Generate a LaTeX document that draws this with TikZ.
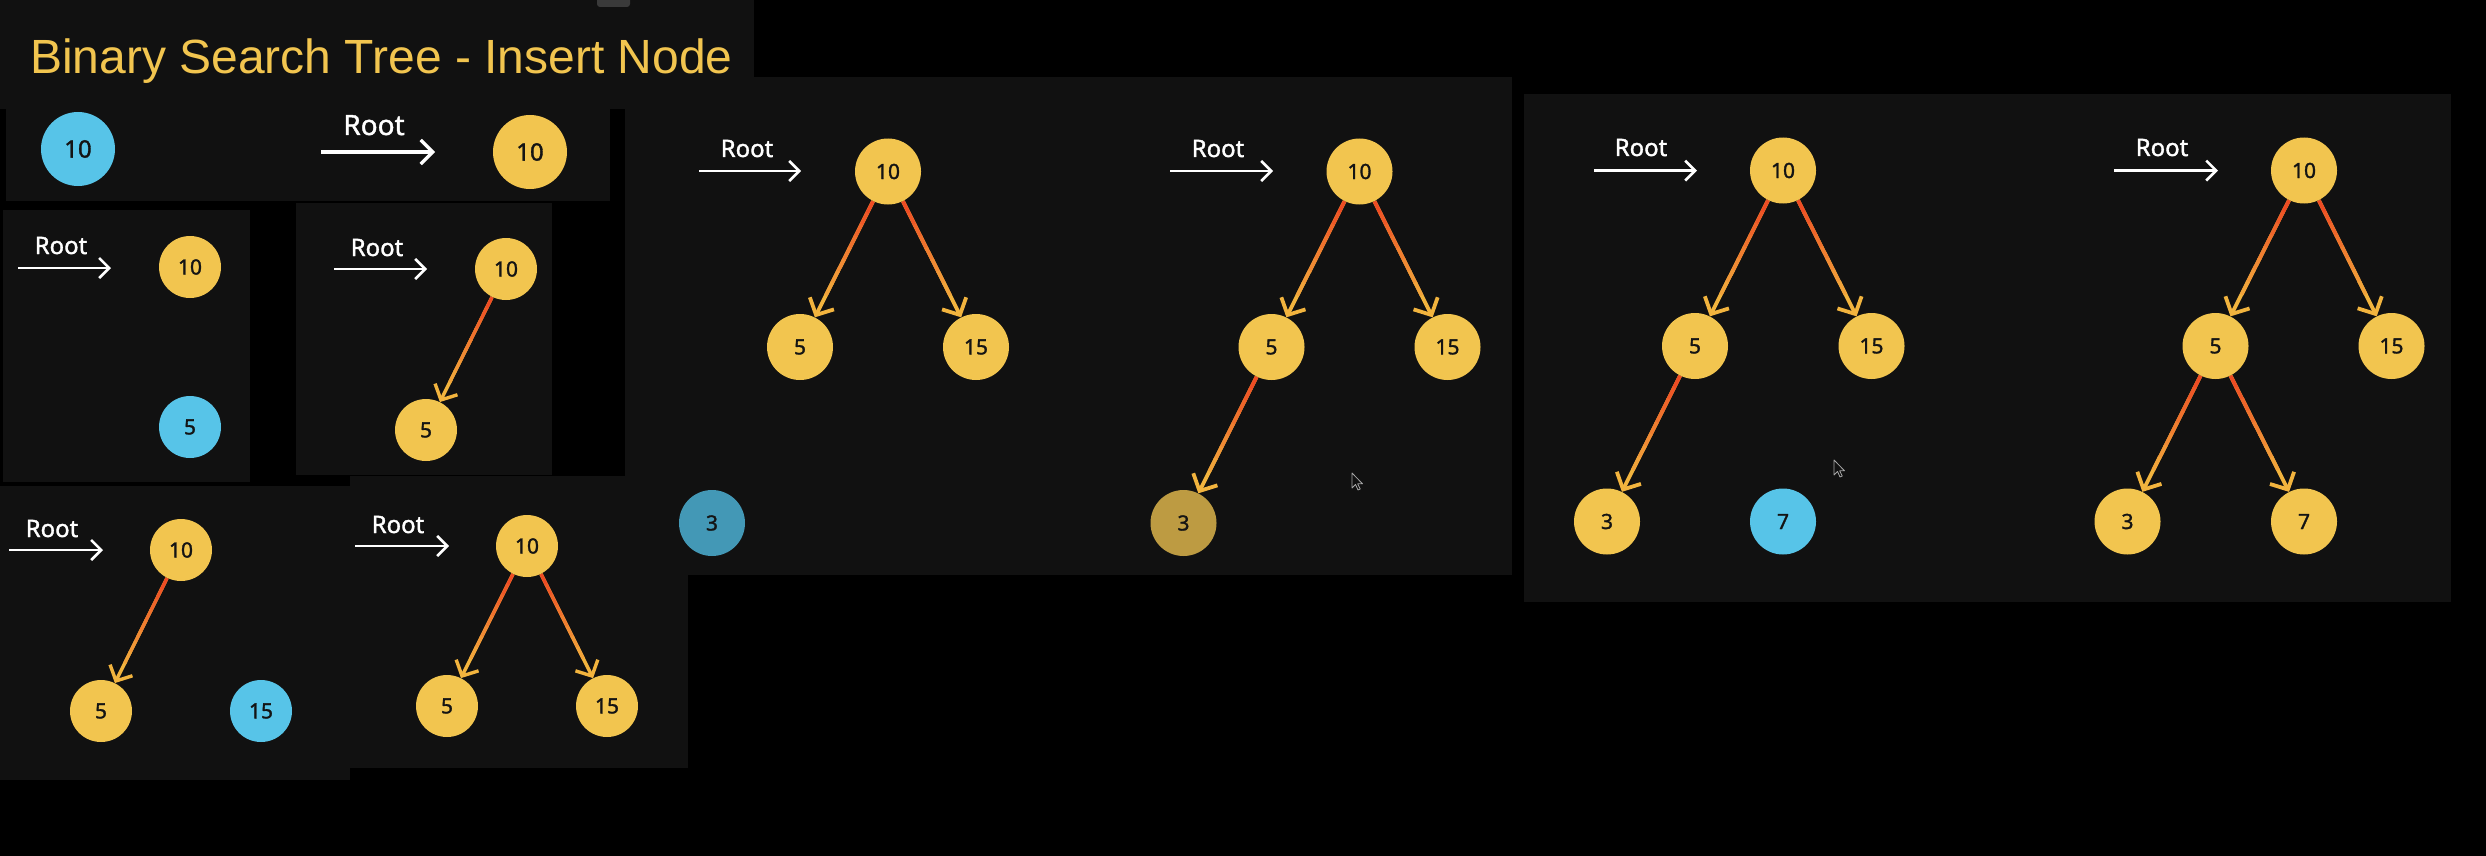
\documentclass[tikz,border=0pt]{standalone}
\usepackage{fontspec}
\setmainfont{Noto Sans}
\newfontfamily\titlefont{Liberation Sans}
\newfontfamily\labfont{Noto Sans}[FakeBold=1.5]
\usetikzlibrary{arrows.meta,calc}
\pgfdeclarelayer{panel}\pgfdeclarelayer{edgelayer}
\pgfsetlayers{panel,edgelayer,main}
\definecolor{panelc}{HTML}{111111}
\definecolor{ynode}{HTML}{F2C54F}
\definecolor{bnode}{HTML}{57C4E8}
\definecolor{dimb}{HTML}{4398B6}
\definecolor{dimy}{HTML}{BD9B42}
\definecolor{etop}{HTML}{EE4C24}
\definecolor{ebot}{HTML}{F2B43E}
\definecolor{txt}{HTML}{141414}
\definecolor{titlec}{HTML}{F2C54F}
\definecolor{tabc}{HTML}{3A3A3A}
\tikzset{
 bst/.style={circle,inner sep=0pt,text=txt,font=\labfont\fontsize{21}{21}\selectfont},
 rA/.style={bst,minimum size=74pt,font=\labfont\fontsize{24}{24}\selectfont},
 rB/.style={bst,minimum size=62pt},
 rC/.style={bst,minimum size=66pt},
 yel/.style={fill=ynode}, blu/.style={fill=bnode},
 dblu/.style={fill=dimb}, dyel/.style={fill=dimy},
 rootlab/.style={anchor=base,inner sep=0pt,text=white,font=\labfont\fontsize{24}{24}\selectfont},
 rootlabA/.style={rootlab,font=\labfont\fontsize{28}{28}\selectfont},
 rootarr/.style={draw=white,line width=2.6pt,-{Straight Barb[length=10pt,width=20pt]}},
 rootarrA/.style={draw=white,line width=3.2pt,-{Straight Barb[length=12pt,width=24pt]}},
 bstedge/.style={draw=ebot,line width=3.8pt,-{Straight Barb[length=13pt,width=27pt]}},
 bstedgeB/.style={draw=ebot,line width=3.4pt,-{Straight Barb[length=12pt,width=25pt]}},
 panelbox/.style={fill=panelc},
 cursor/.style={fill=panelc,draw=gray!70,line width=0.8pt,line join=round},
}
\newcommand\gradedge[3][bstedge]{%
 \begin{pgfonlayer}{edgelayer}
 \draw[#1] (#2) -- (#3);
 \foreach \k in {0,...,7}{%
   \pgfmathsetmacro\pa{\k*0.1}%
   \pgfmathsetmacro\pb{(\k+1)*0.1+0.012}%
   \pgfmathsetmacro\mx{100-\k*12}%
   \path (#2) -- (#3) coordinate[pos=\pa] (ga) coordinate[pos=\pb] (gb);
   \draw[#1,-,draw=etop!\mx!ebot] (ga) -- (gb);
 }
 \end{pgfonlayer}}
\begin{document}
\begin{tikzpicture}[x=1pt,y=-1pt]
\useasboundingbox (0,0) rectangle (2486,856);
\begin{pgfonlayer}{panel}
\fill[black] (0,0) rectangle (2486,856);
\fill[panelbox] (0,0) rectangle (754,109);
\fill[tabc,rounded corners=3pt] (597,-6) rectangle (630,7);
\fill[panelbox] (6,109) rectangle (610,201);
\fill[panelbox] (3,210) rectangle (250,482);
\fill[panelbox] (296,203) rectangle (552,475);
\fill[panelbox] (625,77) rectangle (1512,575);
\fill[panelbox] (0,486) rectangle (350,780);
\fill[panelbox] (350,476) rectangle (688,768);
\fill[panelbox] (1524,94) rectangle (2451,602);
\end{pgfonlayer}

% title
\node[anchor=base west,inner sep=0pt,text=titlec,font=\titlefont\fontsize{48}{48}\selectfont] (title) at (30,74) {Binary Search Tree - Insert Node};

% panel A
\node[rA,blu] (a0) at (78,149) {10};
\node[rootlabA] (aroot) at (374,135) {Root};
\coordinate (aas) at (321,152); \coordinate (aae) at (435,152);
\draw[rootarrA] (aas) -- (aae);
\node[rA,yel] (a1) at (530,152) {10};

% panel B1
\node[rootlab] (broot) at (61,254) {Root};
\coordinate (bas) at (18,268); \coordinate (bae) at (111,268);
\draw[rootarr] (bas) -- (bae);
\node[rB,yel] (b10) at (190,267) {10};
\node[rB,blu] (b5) at (190,427) {5};

% panel B2
\node[rootlab] (croot) at (377,256) {Root};
\coordinate (cas) at (334,269); \coordinate (cae) at (427,269);
\draw[rootarr] (cas) -- (cae);
\node[rB,yel] (c10) at (506,269) {10};
\node[rB,yel] (c5) at (426,430) {5};
\gradedge[bstedgeB]{c10}{c5}

% panel D1
\node[rootlab] (droot) at (52,537) {Root};
\coordinate (das) at (9,550); \coordinate (dae) at (103,550);
\draw[rootarr] (das) -- (dae);
\node[rB,yel] (d10) at (181,550) {10};
\node[rB,yel] (d5) at (101,711) {5};
\node[rB,blu] (d15) at (261,711) {15};
\gradedge[bstedgeB]{d10}{d5}

% panel D2
\node[rootlab] (eroot) at (398,533) {Root};
\coordinate (eas) at (355,546); \coordinate (eae) at (449,546);
\draw[rootarr] (eas) -- (eae);
\node[rB,yel] (e10) at (527,546) {10};
\node[rB,yel] (e5) at (447,706) {5};
\node[rB,yel] (e15) at (607,706) {15};
\gradedge[bstedgeB]{e10}{e5}
\gradedge[bstedgeB]{e10}{e15}

% panel C1
\node[rootlab] (froot) at (747,157) {Root};
\coordinate (fas) at (699,171); \coordinate (fae) at (801,171);
\draw[rootarr] (fas) -- (fae);
\node[rC,yel] (f10) at (888,171.5) {10};
\node[rC,yel] (f5) at (800,347) {5};
\node[rC,yel] (f15) at (976,347) {15};
\node[rC,dblu] (f3) at (712,523) {3};
\gradedge{f10}{f5}
\gradedge{f10}{f15}

% panel C2
\node[rootlab] (groot) at (1218,157) {Root};
\coordinate (gas) at (1170,171); \coordinate (gae) at (1273,171);
\draw[rootarr] (gas) -- (gae);
\node[rC,yel] (g10) at (1359.5,171.5) {10};
\node[rC,yel] (g5) at (1271.5,347) {5};
\node[rC,yel] (g15) at (1447.5,347) {15};
\node[rC,dyel] (g3) at (1183.5,523) {3};
\gradedge{g10}{g5}
\gradedge{g10}{g15}
\gradedge{g5}{g3}
\draw[cursor] (1352,473) -- ++(0,15) -- ++(3.5,-3.5) -- ++(2.5,5.5) -- ++(2.2,-1) -- ++(-2.5,-5.2) -- ++(4.8,0) -- cycle;

% panel E1
\node[rootlab] (hroot) at (1641,156) {Root};
\coordinate (has) at (1594,170.6); \coordinate (hae) at (1697,170.6);
\draw[rootarr] (has) -- (hae);
\node[rC,yel] (h10) at (1783,170.5) {10};
\node[rC,yel] (h5) at (1695,346) {5};
\node[rC,yel] (h15) at (1871.5,346) {15};
\node[rC,yel] (h3) at (1607,521.5) {3};
\node[rC,blu] (h7) at (1783,521.5) {7};
\gradedge{h10}{h5}
\gradedge{h10}{h15}
\gradedge{h5}{h3}
\draw[cursor] (1834,460) -- ++(0,15) -- ++(3.5,-3.5) -- ++(2.5,5.5) -- ++(2.2,-1) -- ++(-2.5,-5.2) -- ++(4.8,0) -- cycle;

% panel E2
\node[rootlab] (iroot) at (2162,156) {Root};
\coordinate (ias) at (2114,170.6); \coordinate (iae) at (2218,170.6);
\draw[rootarr] (ias) -- (iae);
\node[rC,yel] (i10) at (2304,170.5) {10};
\node[rC,yel] (i5) at (2215.5,346) {5};
\node[rC,yel] (i15) at (2391.5,346) {15};
\node[rC,yel] (i3) at (2127.5,521.5) {3};
\node[rC,yel] (i7) at (2304,521.5) {7};
\gradedge{i10}{i5}
\gradedge{i10}{i15}
\gradedge{i5}{i3}
\gradedge{i5}{i7}
\end{tikzpicture}
\end{document}
